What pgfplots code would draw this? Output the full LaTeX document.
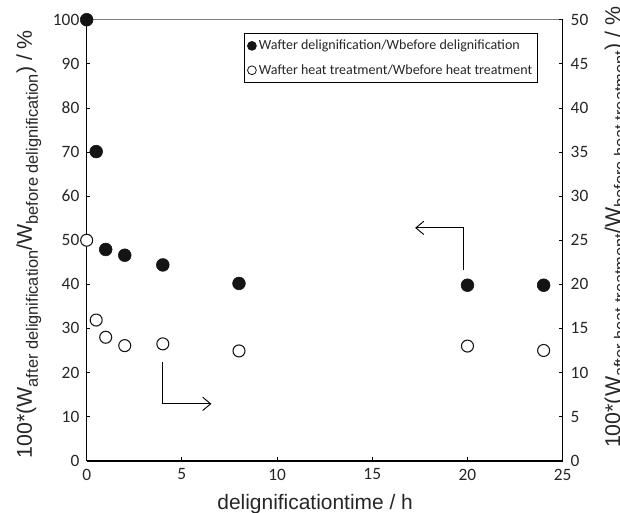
\documentclass[border=0pt]{standalone}
\usepackage{fontspec}
\setmainfont{Carlito}
\newfontfamily\arial{Liberation Sans}
\usepackage{pgfplots}
\pgfplotsset{compat=1.18}
\usetikzlibrary{arrows.meta}
\newcommand{\sub}[1]{\raisebox{-0.28em}{\fontsize{12.3}{14}\selectfont #1}}
\begin{document}
\begin{tikzpicture}
\path[use as bounding box] (-65pt,-39.2pt) rectangle (400pt,345.55pt);
\pgfplotsset{
  common/.style={
    scale only axis, width=357pt, height=330.75pt,
    xmin=0, xmax=25, clip=false,
    axis line style={line width=1.2pt, black},
    tick align=inside, major tick length=2.5pt,
    tick style={black, line width=0.6pt},
    ticklabel style={font=\fontsize{13}{15}\selectfont, text=black!85},
    /pgf/number format/assume math mode=true,
  }
}
\begin{axis}[common,
  ymin=0, ymax=100,
  axis x line*=bottom, axis y line*=left,
  xtick={0,5,...,25}, ytick={0,10,...,100},
  xticklabel style={yshift=-2.5pt},
  yticklabel style={xshift=-2pt},
  xlabel={delignificationtime / h},
  every axis x label/.style={at={(axis description cs:0.48,0)}, anchor=base, yshift=-36.2pt,
    font=\arial\fontsize{15.7}{18}\selectfont, text=black!85},
  ylabel={100*(W\sub{after delignification}/W\sub{before delignification}) / \%},
  every axis y label/.style={at={(axis description cs:0,0.491)}, rotate=90, anchor=base, yshift=41pt,
    font=\arial\fontsize{16}{18}\selectfont, text=black!85},
]
\draw[black!50, line width=0.7pt] (rel axis cs:0,1) -- (rel axis cs:1,1);
\addplot[only marks, mark=*, mark size=4.8pt, mark options={fill=black!92, draw=black!92}]
  coordinates {(0,100) (0.5,70.1) (1,47.9) (2,46.6) (4,44.4) (8,40.2) (20,39.8) (24,39.8)};
\draw[line width=0.7pt, -{Straight Barb[length=6pt,width=10pt]}] (axis cs:19.8,43.2) -- (axis cs:19.8,52.8) -- (axis cs:17.25,52.8);
\draw[line width=0.7pt, -{Straight Barb[length=6pt,width=10pt]}] (axis cs:4,22.4) -- (axis cs:4,12.9) -- (axis cs:6.55,12.9);
\end{axis}
\begin{axis}[common,
  ymin=0, ymax=50,
  axis x line=none, axis y line*=right,
  ytick={0,5,...,50},
  yticklabel style={xshift=2.5pt},
  ylabel={100*(W\sub{after heat treatment}/W\sub{before heat treatment}) / \%},
  every axis y label/.style={at={(axis description cs:1,0.529)}, rotate=90, anchor=base, yshift=-43pt,
    font=\arial\fontsize{16}{18}\selectfont, text=black!85},
  legend style={at={(0.948,0.97)}, anchor=north east, draw=black, line width=0.6pt,
    font=\fontsize{10.5}{12}\selectfont, text=black!85, row sep=5.5pt, inner xsep=2pt, inner ysep=3pt},
  legend cell align=left,
  legend image code/.code={\draw[#1] plot coordinates {(0pt,0pt)};},
]
\addlegendimage{only marks, mark=*, mark size=3.3pt, mark options={fill=black!92, draw=black!92}}
\addlegendentry{Wafter delignification/Wbefore delignification}
\addlegendimage{only marks, mark=o, mark size=3.3pt, mark options={fill=white, draw=black!92, line width=0.6pt}}
\addlegendentry{Wafter heat treatment/Wbefore heat treatment}
\addplot[only marks, mark=*, mark size=4.5pt, mark options={fill=white, draw=black!92, line width=0.8pt}, forget plot]
  coordinates {(0,25) (0.5,15.95) (1,14.0) (2,13.05) (4,13.25) (8,12.45) (20,13.0) (24,12.5)};
\end{axis}
\end{tikzpicture}
\end{document}
